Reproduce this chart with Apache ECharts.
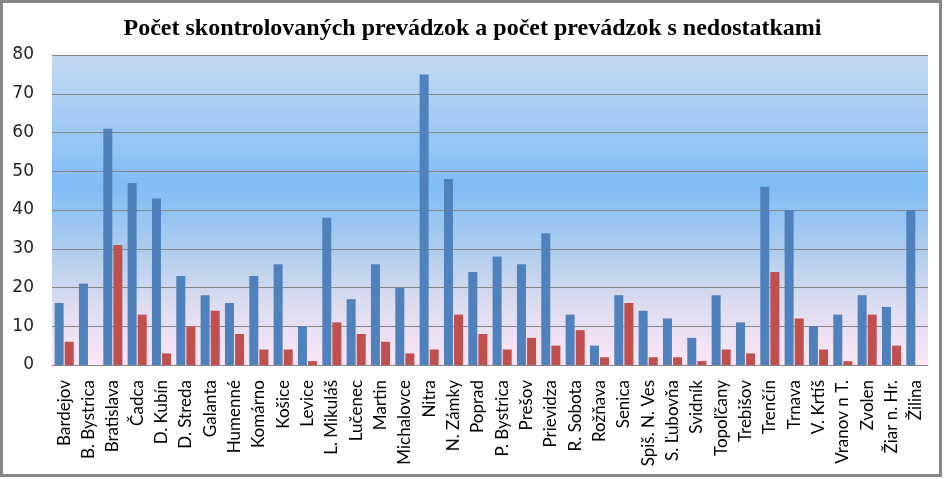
<!DOCTYPE html>
<html>
<head>
<meta charset="utf-8">
<script src="https://cdn.jsdelivr.net/npm/echarts@6/dist/echarts.min.js"></script>
<style>html,body{margin:0;padding:0;background:#fff}#c{width:945px;height:479px}</style>
</head>
<body>
<div id="c"></div>
<script>
const categories = ["Bardejov","B. Bystrica","Bratislava","Čadca","D. Kubín","D. Streda","Galanta","Humenné","Komárno","Košice","Levice","L. Mikuláš","Lučenec","Martin","Michalovce","Nitra","N. Zámky","Poprad","P. Bystrica","Prešov","Prievidza","R. Sobota","Rožňava","Senica","Spiš. N. Ves","S. Ľubovňa","Svidník","Topoľčany","Trebišov","Trenčín","Trnava","V. Krtíš","Vranov n T.","Zvolen","Žiar n. Hr.","Žilina"];
const skontrolovane = [16,21,61,47,43,23,18,16,23,26,10,38,17,26,20,75,48,24,28,26,34,13,5,18,14,12,7,18,11,46,40,10,13,18,15,40];
const sNedostatkami = [6,0,31,13,3,10,14,8,4,4,1,11,8,6,3,4,13,8,4,7,5,9,2,16,2,2,1,4,3,24,12,4,1,13,5,0];
const titleText = "Počet skontrolovaných prevádzok a počet prevádzok s nedostatkami";

const chart = echarts.init(document.getElementById('c'), null, {renderer:'canvas'});
chart.setOption({
  animation: false,
  backgroundColor: '#fff',
  title: {
    text: titleText, left: 'center', top: 12,
    textStyle: {fontFamily: 'Liberation Serif', fontWeight: 'bold', fontSize: 24, color: '#000'}
  },
  graphic: [{
    type: 'rect', shape: {x: 1.5, y: 1.5, width: 939, height: 474},
    style: {fill: 'none', stroke: '#868686', lineWidth: 3}, silent: true, z: 100
  }],
  grid: {
    left: 52, right: 17, top: 55, bottom: 114, show: true, borderWidth: 0,
    backgroundColor: {type: 'linear', x: 0, y: 0, x2: 0, y2: 1, colorStops: [
      {offset: 0, color: '#c4d9f1'},
      {offset: 0.42, color: '#80bcf8'},
      {offset: 0.62, color: '#acccee'},
      {offset: 0.8, color: '#dcdcef'},
      {offset: 1, color: '#fde6f7'}
    ]}
  },
  xAxis: {
    type: 'category', data: categories,
    axisLine: {lineStyle: {color: '#868686', width: 1}},
    axisTick: {show: false},
    axisLabel: {interval: 0, rotate: 90, fontFamily: 'Lato', fontSize: 17, color: '#000', margin: 15}
  },
  yAxis: {
    type: 'value', min: 0, max: 80, interval: 10,
    axisLine: {show: false}, axisTick: {show: false},
    splitLine: {lineStyle: {color: '#868686', width: 1}},
    axisLabel: {fontFamily: 'DejaVu Sans', fontSize: 17, color: '#222', margin: 18}
  },
  series: [
    {type: 'bar', name: 'Počet skontrolovaných prevádzok', data: skontrolovane, barWidth: 9, barGap: '12%', itemStyle: {color: '#4f81bd'}},
    {type: 'bar', name: 'Počet prevádzok s nedostatkami', data: sNedostatkami, barWidth: 9, itemStyle: {color: '#c0504d'}}
  ]
});
</script>
</body>
</html>
